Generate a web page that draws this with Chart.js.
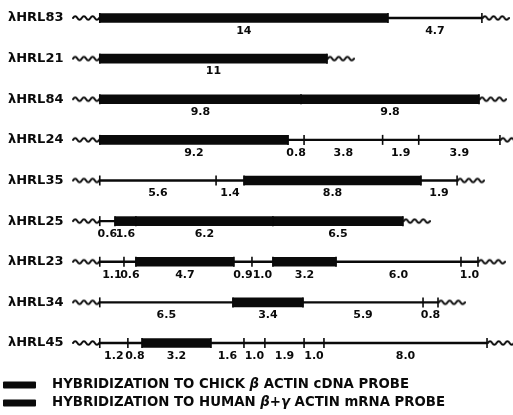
<!DOCTYPE html>
<html>
<head>
<meta charset="utf-8">
<script src="https://cdn.jsdelivr.net/npm/chart.js@4.4.0/dist/chart.umd.min.js"></script>
<style>
  body { margin: 0; background: #fff; }
  #wrap { width: 513px; height: 415px; }
</style>
</head>
<body>
<div id="wrap"><canvas id="mapChart"></canvas></div>
<script>
// clones, top to bottom
const clones = ['λHRL83', 'λHRL21', 'λHRL84', 'λHRL24', 'λHRL35', 'λHRL25', 'λHRL23', 'λHRL34', 'λHRL45'];

// restriction sites along each insert (kb from left end, as drawn on the map)
const sites = [
  [0, 14.05, 18.63],
  [0, 11.08],
  [0, 9.81, 18.49],
  [0, 9.18, 9.96, 13.79, 15.55, 19.51],
  [0, 5.67, 7.03, 15.66, 17.42],
  [0, 0.74, 1.76, 8.44, 14.78],
  [0, 1.18, 1.76, 6.54, 7.42, 8.44, 11.52, 17.61, 18.44],
  [0, 6.49, 9.91, 15.76, 16.49],
  [0, 1.37, 2.06, 5.42, 7.03, 8.05, 9.96, 10.93, 18.88]
];

// fragment sizes written under each fragment (kb)
const sizes = [
  ['14', '4.7'],
  ['11'],
  ['9.8', '9.8'],
  ['9.2', '0.8', '3.8', '1.9', '3.9'],
  ['5.6', '1.4', '8.8', '1.9'],
  ['0.6', '1.6', '6.2', '6.5'],
  ['1.1', '0.6', '4.7', '0.9', '1.0', '3.2', '6.0', '1.0'],
  ['6.5', '3.4', '5.9', '0.8'],
  ['1.2', '0.8', '3.2', '1.6', '1.0', '1.9', '1.0', '8.0']
];

// fragments that light up with the probes (index into sizes)
const hybridized = [[0], [0], [0, 1], [0], [2], [1, 2, 3], [2, 5], [1], [2]];

const legendLabels = [
  'HYBRIDIZATION TO CHICK β ACTIN cDNA PROBE',
  'HYBRIDIZATION TO HUMAN β+γ ACTIN mRNA PROBE'
];

const ink = '#0a0a0a';
const waveOff = 0.67; // lambda arm squiggle, in kb from the end of the insert

// little squiggle used for the vector arms
const waveImg = document.createElement('canvas');
waveImg.width = 28;
waveImg.height = 8;
(() => {
  const c = waveImg.getContext('2d');
  c.lineWidth = 2;
  c.strokeStyle = ink;
  c.lineCap = 'round';
  c.beginPath();
  c.moveTo(1, 4);
  for (let i = 0; i < 3; i++) {
    const x = 1 + i * 8.7;
    c.quadraticCurveTo(x + 2.2, 0.3, x + 4.35, 4);
    c.quadraticCurveTo(x + 6.5, 7.7, x + 8.7, 4);
  }
  c.stroke();
})();

const tickData = sites.flatMap((row, i) => row.map(s => ({ x: s, y: clones[i] })));
const waveData = sites.flatMap((row, i) => [
  { x: -waveOff, y: clones[i] },
  { x: row[row.length - 1] + waveOff, y: clones[i] }
]);

const maxHyb = Math.max(...hybridized.map(h => h.length));
const hybSets = [];
for (let k = 0; k < maxHyb; k++) {
  hybSets.push({
    type: 'bar',
    data: hybridized.map((h, i) => h[k] !== undefined ? [sites[i][h[k]], sites[i][h[k] + 1]] : null),
    backgroundColor: ink,
    barThickness: 9,
    grouped: false,
    clip: false
  });
}

const fragmentLabels = {
  id: 'fragmentLabels',
  afterDatasetsDraw(chart) {
    const { ctx, scales: { x, y } } = chart;
    ctx.save();
    ctx.fillStyle = ink;
    ctx.font = 'bold 11px "DejaVu Sans"';
    ctx.textAlign = 'center';
    ctx.textBaseline = 'middle';
    sizes.forEach((row, i) => {
      const py = y.getPixelForValue(i) + 13;
      row.forEach((txt, j) => {
        const px = x.getPixelForValue((sites[i][j] + sites[i][j + 1]) / 2);
        ctx.fillText(txt, px, py);
      });
    });
    ctx.restore();
  }
};

const probeLegend = {
  id: 'probeLegend',
  afterDraw(chart) {
    const { ctx, chartArea } = chart;
    ctx.save();
    ctx.fillStyle = ink;
    ctx.textBaseline = 'middle';
    legendLabels.forEach((txt, i) => {
      const cy = chartArea.bottom + 42 + i * 18;
      ctx.beginPath();
      ctx.roundRect(3, cy - 3.5, 33, 7, 1);
      ctx.fill();
      let tx = 52;
      txt.split(/([βγ])/).forEach(part => {
        ctx.font = (/[βγ]/.test(part) ? 'italic ' : '') + 'bold 13.3px "DejaVu Sans"';
        ctx.fillText(part, tx, cy);
        tx += ctx.measureText(part).width;
      });
    });
    ctx.restore();
  }
};

new Chart(document.getElementById('mapChart'), {
  type: 'bar',
  data: {
    labels: clones,
    datasets: [
      {
        type: 'scatter',
        data: waveData,
        pointStyle: waveImg,
        pointRadius: 14,
        clip: false
      },
      {
        type: 'scatter',
        data: tickData,
        pointStyle: 'line',
        rotation: 90,
        pointRadius: 5,
        borderColor: ink,
        borderWidth: 1.6,
        clip: false
      },
      ...hybSets,
      {
        type: 'bar',
        data: sites.map(s => [s[0], s[s.length - 1]]),
        backgroundColor: ink,
        barThickness: 1.6,
        grouped: false,
        clip: false
      }
    ]
  },
  options: {
    indexAxis: 'y',
    responsive: true,
    maintainAspectRatio: false,
    animation: false,
    events: [],
    layout: { autoPadding: false, padding: { left: 8, right: 3, top: 18, bottom: 72 } },
    plugins: { legend: { display: false }, tooltip: { enabled: false } },
    scales: {
      x: { type: 'linear', min: -1.5, max: 20, display: false },
      y: {
        type: 'category',
        offset: false,
        grid: { display: false },
        border: { display: false },
        ticks: {
          color: ink,
          crossAlign: 'far',
          padding: 0,
          font: { family: 'DejaVu Sans', weight: 'bold', size: 13 }
        },
        afterFit: s => { s.width = 61; }
      }
    }
  },
  plugins: [fragmentLabels, probeLegend]
});
</script>
</body>
</html>
